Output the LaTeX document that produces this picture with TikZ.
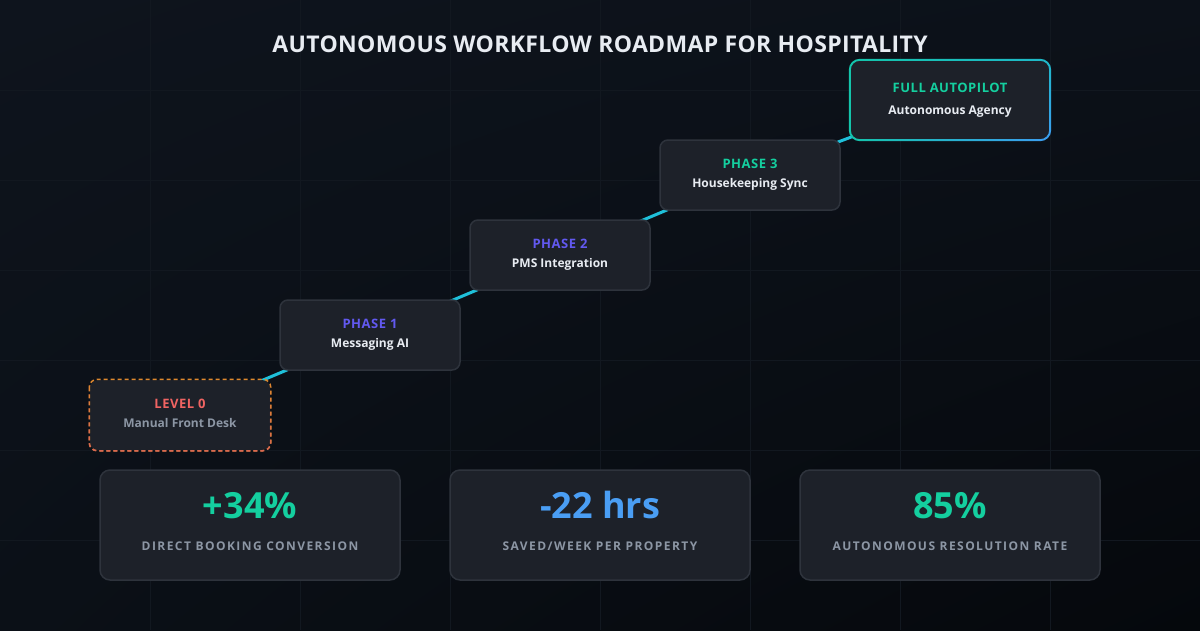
\documentclass[tikz,border=0pt]{standalone}
\usepackage{fontspec}
\setmainfont{Open Sans}
\newfontfamily\lsA[LetterSpace=12]{Open Sans}
\newfontfamily\lsB[LetterSpace=4]{Open Sans}
\newfontfamily\lsC[LetterSpace=1.5]{Open Sans}
\newfontfamily\lsD{Open Sans}
\usetikzlibrary{calc,fadings,shadings}
\pgfdeclarelayer{back}
\pgfdeclarelayer{mid}
\pgfsetlayers{back,mid,main}
\definecolor{bgTL}{HTML}{0E141D}
\definecolor{bgTR}{HTML}{0C1119}
\definecolor{bgBL}{HTML}{0B1017}
\definecolor{bgBR}{HTML}{05080C}
\definecolor{gridc}{HTML}{121820}
\definecolor{boxfill}{HTML}{1D2129}
\definecolor{boxline}{HTML}{2E333C}
\definecolor{indigoc}{HTML}{6259F0}
\definecolor{greenc}{HTML}{14CF9F}
\definecolor{bluec}{HTML}{4A9EF4}
\definecolor{redc}{HTML}{F06462}
\definecolor{orangec}{HTML}{E08A2E}
\definecolor{coralc}{HTML}{D9605A}
\definecolor{cyanc}{HTML}{1FC0DA}
\definecolor{greyc}{HTML}{8C96A4}
\definecolor{whitec}{HTML}{E8ECF2}
\definecolor{apA}{HTML}{14C4AA}
\definecolor{apM}{HTML}{1FB8C8}
\definecolor{apB}{HTML}{3D9CF2}
\newcommand\fTitle{\lsC\bfseries\fontsize{23}{27}\selectfont}
\newcommand\fStage{\lsB\bfseries\fontsize{13}{15}\selectfont}
\newcommand\fSub{\lsD\bfseries\fontsize{12}{14}\selectfont}
\newcommand\fBig{\lsD\bfseries\fontsize{36}{40}\selectfont}
\newcommand\fLab{\lsA\bfseries\fontsize{12}{14}\selectfont}
\tikzfading[name=fadeBR, top color=transparent!100, bottom color=transparent!15]
\begin{document}
\begin{tikzpicture}[x=1pt,y=-1pt,
  stagebox/.style={fill=boxfill, draw=boxline, line width=1.5pt, rounded corners=8pt,
    minimum width=180pt, minimum height=70pt, inner sep=0pt},
  statbox/.style={fill=boxfill, draw=boxline, line width=1.5pt, rounded corners=10pt,
    minimum width=300pt, minimum height=110pt, inner sep=0pt},
  txt/.style={inner sep=0pt, anchor=base},
  conn/.style={draw=cyanc, line width=3pt},
  gridline/.style={draw=gridc, line width=1pt},
  dashborder/.style={line width=1.5pt, rounded corners=8pt, dash pattern=on 4pt off 3pt}
]
\useasboundingbox (0,0) rectangle (1200,630);
\begin{pgfonlayer}{back}
  \shade[upper left=bgTL, upper right=bgTR, lower left=bgBL, lower right=bgBR]
    (0,0) rectangle (1200,630);
  \foreach \x in {150,300,...,1050} \draw[gridline] (\x,0) -- (\x,630);
  \foreach \y in {90,180,...,540} \draw[gridline] (0,\y) -- (1200,\y);
\end{pgfonlayer}

% title
\node[txt, font=\fTitle, text=whitec] (title) at (600,52.5) {AUTONOMOUS WORKFLOW ROADMAP FOR HOSPITALITY};

% stages
\node[stagebox, draw=none] (l0) at (180,415) {};
\draw[dashborder, draw=orangec] (l0.north west) rectangle (l0.south east);
\draw[dashborder, draw=coralc, path fading=fadeBR] (l0.north west) rectangle (l0.south east);
\node[txt, font=\fStage, text=redc] (l0t) at ($(l0.north)+(0,29)$) {LEVEL 0};
\node[txt, font=\fSub, text=greyc] (l0s) at ($(l0.north)+(0,48.5)$) {Manual Front Desk};

\node[stagebox] (p1) at (370,335) {};
\node[txt, font=\fStage, text=indigoc] (p1t) at ($(p1.north)+(0,29)$) {PHASE 1};
\node[txt, font=\fSub, text=whitec] (p1s) at ($(p1.north)+(0,48.5)$) {Messaging AI};

\node[stagebox] (p2) at (560,255) {};
\node[txt, font=\fStage, text=indigoc] (p2t) at ($(p2.north)+(0,29)$) {PHASE 2};
\node[txt, font=\fSub, text=whitec] (p2s) at ($(p2.north)+(0,48.5)$) {PMS Integration};

\node[stagebox] (p3) at (750,175) {};
\node[txt, font=\fStage, text=greenc] (p3t) at ($(p3.north)+(0,29)$) {PHASE 3};
\node[txt, font=\fSub, text=whitec] (p3s) at ($(p3.north)+(0,48.5)$) {Housekeeping Sync};

\node[fill=boxfill, rounded corners=10pt, minimum width=200pt, minimum height=80pt, inner sep=0pt] (ap) at (950,100) {};
\shade[even odd rule, upper left=apA, upper right=apM, lower left=apA, lower right=apB]
  [rounded corners=11pt] ($(ap.north west)+(-1,-1)$) rectangle ($(ap.south east)+(1,1)$)
  [rounded corners=9pt] ($(ap.north west)+(1,1)$) rectangle ($(ap.south east)+(-1,-1)$);
\node[txt, font=\fStage, text=greenc] (apt) at ($(ap.north)+(0,33)$) {FULL AUTOPILOT};
\node[txt, font=\fSub, text=whitec] (aps) at ($(ap.north)+(0,54.5)$) {Autonomous Agency};

% connectors
\begin{pgfonlayer}{mid}
  \draw[conn] (l0.center) -- (p1.center);
  \draw[conn] (p1.center) -- (p2.center);
  \draw[conn] (p2.center) -- (p3.center);
  \draw[conn] (p3.center) -- (ap.center);
\end{pgfonlayer}

% stats
\node[statbox] (s1) at (250,525) {};
\node[txt, font=\fBig, text=greenc] (s1n) at ($(s1.north)+(0,49.5)$) {+34\%};
\node[txt, font=\fLab, text=greyc] (s1l) at ($(s1.north)+(0,81)$) {DIRECT BOOKING CONVERSION};

\node[statbox] (s2) at (600,525) {};
\node[txt, font=\fBig, text=bluec] (s2n) at ($(s2.north)+(0,49.5)$) {-22 hrs};
\node[txt, font=\fLab, text=greyc] (s2l) at ($(s2.north)+(0,81)$) {SAVED/WEEK PER PROPERTY};

\node[statbox] (s3) at (950,525) {};
\node[txt, font=\fBig, text=greenc] (s3n) at ($(s3.north)+(0,49.5)$) {85\%};
\node[txt, font=\fLab, text=greyc] (s3l) at ($(s3.north)+(0,81)$) {AUTONOMOUS RESOLUTION RATE};
\end{tikzpicture}
\end{document}
